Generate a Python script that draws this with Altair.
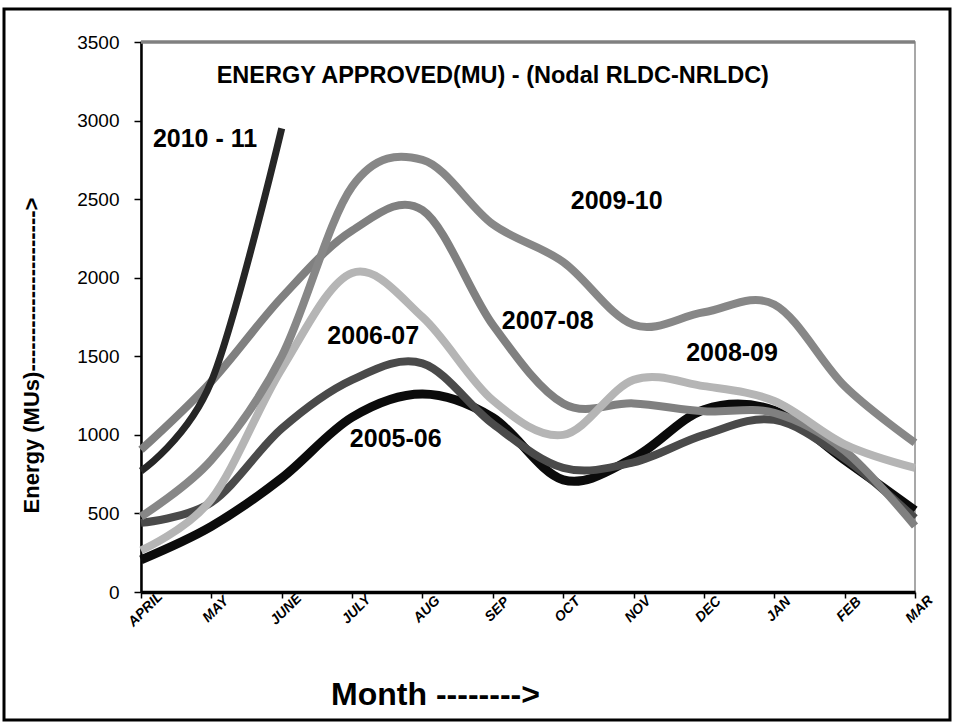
import altair as alt
import pandas as pd

months = ["APRIL", "MAY", "JUNE", "JULY", "AUG", "SEP", "OCT", "NOV", "DEC", "JAN", "FEB", "MAR"]
series_names = ["2005-06", "2006-07", "2007-08", "2008-09", "2009-10", "2010-11"]
s0506 = [205, 418, 725, 1112, 1260, 1110, 714, 853, 1160, 1155, 840, 520]
s0607 = [440, 570, 1040, 1350, 1455, 1070, 790, 825, 1000, 1095, 850, 470]
s0708 = [905, 1340, 1875, 2300, 2430, 1700, 1200, 1200, 1150, 1140, 900, 420]
s0809 = [265, 590, 1420, 2030, 1750, 1220, 1000, 1350, 1310, 1215, 940, 790]
s0910 = [480, 840, 1500, 2580, 2750, 2340, 2100, 1700, 1780, 1830, 1310, 950]
s1011 = [770, 1340, 2950]
series_values = [s0506, s0607, s0708, s0809, s0910, s1011]
series_colors = ["#0b0b0b", "#4a4a4a", "#808080", "#b5b5b5", "#878787", "#262626"]
series_widths = [9, 8, 8, 8, 8, 7]

label_texts = ["2010 - 11", "2009-10", "2007-08", "2006-07", "2005-06", "2008-09"]
label_x = [0.91, 6.76, 5.78, 3.30, 3.62, 8.40]
label_y = [2885, 2490, 1727, 1632, 976, 1523]

title_text = "ENERGY APPROVED(MU) - (Nodal RLDC-NRLDC)"
y_title = "Energy  (MUs)" + "-" * 22 + ">"
x_title = "Month -------->"

rows = []
for name, vals in zip(series_names, series_values):
    for i, v in enumerate(vals):
        rows.append({"series": name, "m": i, "value": v})
df = pd.DataFrame(rows)

label_df = pd.DataFrame({"text": label_texts, "m": label_x, "value": label_y})

FONT = "Liberation Sans"
month_expr = "[" + ",".join("'" + m + "'" for m in months) + "][datum.value]"

xscale = alt.Scale(domain=[0, 11], nice=False, zero=False)
yscale = alt.Scale(domain=[0, 3500], nice=False)

xaxis = alt.Axis(
    values=list(range(12)), labelExpr=month_expr, grid=False,
    labelAngle=-45, labelAlign="center", labelBaseline="middle",
    labelFont=FONT, labelFontSize=14, labelFontWeight="bold", labelFontStyle="italic",
    labelColor="black", labelPadding=11, labelOffset=4,
    tickSize=6, tickColor="black", tickWidth=1.5,
    domainColor="black", domainWidth=3.5,
    title=x_title, titleFont=FONT, titleFontSize=32, titleFontWeight="bold",
    titleColor="black", titleX=294, titleY=102, titleAlign="center", titleBaseline="middle",
)
yaxis = alt.Axis(
    values=list(range(0, 3501, 500)), format="d", grid=False,
    labelFont=FONT, labelFontSize=19, labelColor="black", labelPadding=15,
    tickSize=7, tickColor="black", tickWidth=1.5,
    domainColor="black", domainWidth=2.5,
    title=y_title, titleFont=FONT, titleFontSize=22, titleFontWeight="bold",
    titleColor="black", titleX=-110, titleY=313, titleAngle=270,
    titleAlign="center", titleBaseline="middle",
)

X = alt.X("m:Q", scale=xscale, axis=xaxis)
Y = alt.Y("value:Q", scale=yscale, axis=yaxis)

layers = []
for name, color, w in zip(series_names, series_colors, series_widths):
    layers.append(
        alt.Chart(df).transform_filter(alt.datum.series == name)
        .mark_line(interpolate="cardinal", color=color, strokeWidth=w,
                   strokeCap="butt", strokeJoin="round")
        .encode(x=X, y=Y)
    )

top_border = alt.Chart(pd.DataFrame({"value": [3500]})).mark_rule(
    color="#808080", strokeWidth=3.5
).encode(y=Y, x=alt.value(0), x2=alt.value(774))

labels = alt.Chart(label_df).mark_text(
    font=FONT, fontSize=25, fontWeight="bold", color="black",
    align="center", baseline="middle"
).encode(x=X, y=Y, text="text:N")

title = alt.Chart(pd.DataFrame({"text": [title_text], "m": [5.0], "value": [3285]})).mark_text(
    font=FONT, fontSize=23.5, fontWeight="bold", color="black",
    align="center", baseline="middle"
).encode(x=X, y=Y, text="text:N")

frame = alt.Chart(pd.DataFrame({"a": [0]})).mark_rect(
    fill="transparent", stroke="black", strokeWidth=3, clip=False
).encode(x=alt.value(-137), x2=alt.value(809), y=alt.value(-33), y2=alt.value(678))

chart = alt.layer(*layers, top_border, labels, title, frame).properties(
    width=774, height=550,
    autosize=alt.AutoSizeParams(type="none"),
    padding={"left": 141, "top": 42, "right": 38, "bottom": 132},
    background="white",
).configure_view(stroke="#8c8c8c", strokeWidth=1.5)

chart.save("out.html", embed_options={"renderer": "svg", "actions": False})
